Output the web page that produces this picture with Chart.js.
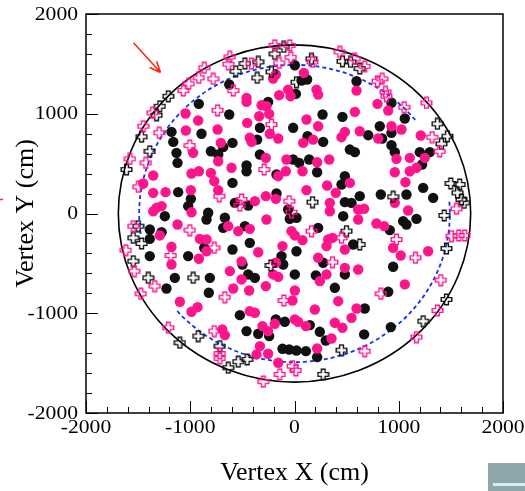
<!DOCTYPE html>
<html>
<head>
<meta charset="utf-8">
<script src="https://cdn.jsdelivr.net/npm/chart.js@4.4.1/dist/chart.umd.min.js"></script>
<style>
    html, body { margin: 0; padding: 0; background: #fff; }
    #wrap { width: 525px; height: 491px; }
</style>
</head>
<body>
<div id="wrap"><canvas id="vertexChart" width="525" height="491"></canvas></div>
<script>
// Vertex positions (cm)
const blackDots = [
    [-918,1099],[-1180,818],[-1163,718],[-892,799],[-684,665],
    [3,1486],[-626,1293],[67,1333],[121,1343],[13,1199],[-253,1119],[-626,992],[269,992],[460,969],[-13,859],
    [-332,859],[125,775],[275,718],[-358,741],[595,1326],[-595,708],
    [930,1109],[1058,952],[818,875],[930,809],[707,785],[841,752],[930,684],
    [-1132,608],[-1122,508],[-802,624],[-732,591],[-1116,214],[-994,147],[-1020,74],[-828,7],[-844,-60],
    [-1244,-27],[-668,-43],[-684,-144],[-1388,-160],[-1275,-187],[-1388,-254],[-866,-344],[-1388,-427],
    [-1020,-427],[-1148,-645],[-812,-645],
    [-460,481],[-460,424],[-595,307],[-332,591],[-173,391],[-13,541],[45,508],[141,541],[217,414],[483,374],
    [451,291],[531,641],[579,615],[-173,200],[-572,107],[-444,80],[-61,40],[-45,-54],[19,-43],[483,114],
    [547,107],[626,174],[467,-27],[-476,-127],[227,-144],[-429,-294],[-595,-361],[19,-378],[563,-311],
    [275,-494],[-125,-427],[-108,-511],[3,-611],[-499,-511],[-444,-611],[-380,-645],[205,-621],[483,-611],
    [962,615],[1202,615],[1298,615],[1224,491],[1234,257],[828,190],[1074,190],[1330,157],[1170,-54],
    [1042,-77],[1074,-110],[914,-167],[946,-534],
    [-1228,-752],[-822,-795],
    [387,-745],[-524,-1019],[-179,-1062],[-93,-1085],[147,-1119],[-460,-1179],[-348,-1206],[-243,-1229],
    [243,-1186],[300,-1273],[-115,-1356],[-51,-1363],[19,-1373],[109,-1380],[217,-1440],
    [899,-785],[674,-952],[924,-1139],[668,-1212]
];
const pinkDots = [
    [-1045,1002],[-924,932],[-738,842],[-1042,832],[-707,708],
    [-179,1393],[-205,1353],[90,1410],[-147,1186],[-61,1242],[-38,1176],[211,1242],[227,1192],[-460,1159],
    [-460,1119],[-316,1085],[-269,1075],[-243,999],[-339,975],[115,942],[227,875],[-454,909],[-237,799],
    [-156,752],[-429,759],[-412,718],[83,708],[179,741],[451,765],[483,818],[579,1019],[595,1232],[626,825],
    [796,1099],[899,1032],[930,875],[1026,842],[803,752],[1211,782],
    [-972,608],[-732,524],[-988,401],[-917,424],[-802,407],[-770,324],[-1355,381],[-1451,301],[-1355,207],
    [-1237,214],[-994,234],[-732,234],[-1275,74],[-1323,57],[-1355,23],[-1122,-110],[-988,13],[-1292,-220],
    [-908,-254],[-844,-261],[-844,-378],[-917,-454],[-1180,-511],[-1180,-334],
    [-604,458],[-275,558],[-156,374],[-83,424],[-77,541],[77,424],[217,514],[333,541],[531,307],[313,281],
    [115,234],[396,207],[-179,147],[-275,174],[-380,124],[339,107],[339,23],[611,40],[611,-60],[-269,-60],
    [-636,-127],[-540,-177],[-429,-154],[-29,-177],[3,-220],[77,-267],[-348,-388],[-115,-327],[323,-261],
    [364,-244],[307,-327],[483,-361],[227,-444],[-179,-494],[-205,-611],[-156,-635],[-508,-480],[-620,-578],
    [-508,-661],[307,-611],[483,-545],[611,-561],[243,-678],
    [1106,558],[1250,558],[978,548],[1170,458],[1106,424],[962,414],[1064,314],[962,107],[1090,30],
    [786,-100],[860,-127],[946,-344],[1019,-421],[1282,-378],[668,47],
    [-1100,-885],[-988,-985],[-930,-939],[-693,-1162],[-668,-1219],
    [-588,-752],[-435,-772],[-275,-728],[3,-772],[-19,-872],[195,-962],[419,-879],[595,-952],[547,-1046],
    [-429,-979],[-380,-995],[-189,-1106],[3,-1062],[35,-1085],[109,-1129],[387,-1095],[460,-1145],
    [-307,-1129],[-253,-1179],[355,-1253],[-332,-1330],[-253,-1406],[217,-1353],[-364,-1413],[-156,-1496],
    [1058,-711]
];
const blackCrosses = [
    [-1211,1175],[-1292,1075],[-1323,985],[-1467,769],
    [-476,1503],[-348,1520],[-563,1426],[-189,1600],[-102,1670],[163,1550],[460,1526],[537,1520],[626,1453],
    [-221,1420],[19,1316],[-358,1360],
    [1371,899],[1467,775],[1410,698],
    [-1388,624],[-1611,441],[-1499,-127],[-1547,-244],[-1467,-301],[-1547,-478],[-1403,-645],[-972,-645],
    [173,114],[499,-177],[-227,-521],[626,-311],
    [1499,301],[1585,291],[1563,207],[1602,140],[1627,107],[1436,-20],[1458,-351],[946,167],
    [-924,-1229],[-1100,-1296],[-716,-1330],
    [-540,-1486],[-454,-1463],[-636,-1546],[275,-1613],[451,-1370],
    [1234,-1079],[1458,-862]
];
const pinkCrosses = [
    [-866,1460],[-780,1350],[-918,1360],[-1014,1300],[-1067,1232],[-1362,1009],[-1451,875],[-1298,809],
    [-1004,681],[-738,1035],[-635,1497],[-620,1570],
    [-412,1503],[-189,1686],[-45,1686],[-35,1566],[-147,1510],[-588,1232],[435,1620],[579,1550],[173,1520],
    [-221,892],
    [674,1476],[796,1326],[841,1350],[873,1219],[882,1176],[1052,1065],[1266,1109],[1320,765],
    [-1579,548],[-1426,508],[-1499,267],[-722,174],[-1547,-127],[-1004,-167],[-770,-344],[-1618,-368],
    [-1186,-421],[-1537,-578],
    [-291,441],[-508,140],[-524,80],[-51,124],[-29,13],[163,-177],[451,-244],[364,-488],
    [1393,624],[1554,47],[1506,-227],[1576,-220],[1633,-220],[978,-261],[1160,-444],[1403,-668],
    [-1474,-805],[-1340,-728],[-668,-839],[-1211,-1145],[-770,-1179],[-716,-1403],[-716,-1453],
    [-102,-872],[-19,-1530],[13,-1573],[-141,-1613],[-300,-1686],
    [828,-805],[674,-1380],[1170,-1239],[1371,-972]
];

const axisTicks = [-2000, -1000, 0, 1000, 2000];
const detectorRadius = 1690;   // ID wall
const fiducialRadius = 1490;   // fiducial volume (dashed)
// dashed arc pieces, degrees counter-clockwise from +x
const fiducialArcs = [[-139, 5], [39, 189]];

const pink = '#ff148c';
const black = '#111111';

function makeCross(color) {
    const c = document.createElement('canvas');
    c.width = 13; c.height = 13;
    const g = c.getContext('2d');
    const m = 6.5, a = 1.9, l = 5.3;
    g.beginPath();
    g.moveTo(m - a, m - l); g.lineTo(m + a, m - l); g.lineTo(m + a, m - a);
    g.lineTo(m + l, m - a); g.lineTo(m + l, m + a); g.lineTo(m + a, m + a);
    g.lineTo(m + a, m + l); g.lineTo(m - a, m + l); g.lineTo(m - a, m + a);
    g.lineTo(m - l, m + a); g.lineTo(m - l, m - a); g.lineTo(m - a, m - a);
    g.closePath();
    g.strokeStyle = color;
    g.lineWidth = 1.4;
    g.stroke();
    return c;
}

const toXY = arr => arr.map(([x, y]) => ({ x: x, y: y }));

// frame, ticks, labels, detector outlines
const frameAndExtras = {
    id: 'frameAndExtras',
    beforeDatasetsDraw(chart) {
        const ctx = chart.ctx;
        const xs = chart.scales.x, ys = chart.scales.y;
        const cx = xs.getPixelForValue(0), cy = ys.getPixelForValue(0);
        const rx1 = xs.getPixelForValue(detectorRadius) - cx;
        const ry1 = cy - ys.getPixelForValue(detectorRadius);
        const rx2 = xs.getPixelForValue(fiducialRadius) - cx;
        const ry2 = cy - ys.getPixelForValue(fiducialRadius);
        ctx.save();
        ctx.strokeStyle = '#000';
        ctx.lineWidth = 1.6;
        ctx.beginPath();
        ctx.ellipse(cx, cy, rx1, ry1, 0, 0, Math.PI * 2);
        ctx.stroke();

        ctx.strokeStyle = '#1030ff';
        ctx.lineWidth = 1.8;
        ctx.setLineDash([4, 3]);
        fiducialArcs.forEach(([a1, a2]) => {
            ctx.beginPath();
            ctx.ellipse(cx, cy, rx2, ry2, 0, -a1 * Math.PI / 180, -a2 * Math.PI / 180, true);
            ctx.stroke();
        });
        ctx.restore();
    },
    afterDraw(chart) {
        const ctx = chart.ctx;
        const area = chart.chartArea;
        const xs = chart.scales.x, ys = chart.scales.y;
        ctx.save();
        // frame
        ctx.strokeStyle = '#000';
        ctx.lineWidth = 1.5;
        ctx.strokeRect(area.left, area.top, area.right - area.left, area.bottom - area.top);

        // ticks (inside)
        ctx.lineWidth = 1;
        ctx.beginPath();
        for (let v = -2000; v <= 2000; v += 200) {
            const len = (v % 1000 === 0) ? 12 : 6;
            const px = Math.round(xs.getPixelForValue(v)) + 0.5;
            ctx.moveTo(px, area.bottom);
            ctx.lineTo(px, area.bottom - len);
            const py = Math.round(ys.getPixelForValue(v)) + 0.5;
            ctx.moveTo(area.left, py);
            ctx.lineTo(area.left + len, py);
        }
        ctx.stroke();

        // tick labels
        ctx.fillStyle = '#000';
        ctx.font = '18px "Liberation Serif", "Times New Roman", serif';
        axisTicks.forEach(v => {
            const py = ys.getPixelForValue(v);
            ctx.save();
            ctx.translate(area.left - 8, py + 1);
            ctx.scale(1.2, 1);
            ctx.textAlign = 'right';
            ctx.textBaseline = 'middle';
            ctx.fillText(String(v), 0, 0);
            ctx.restore();

            const px = xs.getPixelForValue(v);
            ctx.save();
            ctx.translate(px, area.bottom + 20);
            ctx.scale(1.2, 1);
            ctx.textAlign = 'center';
            ctx.textBaseline = 'alphabetic';
            ctx.fillText(String(v), 0, 0);
            ctx.restore();
        });

        // axis titles
        ctx.font = '26px "Liberation Serif", "Times New Roman", serif';
        ctx.textAlign = 'center';
        ctx.textBaseline = 'alphabetic';
        ctx.fillText('Vertex X (cm)', xs.getPixelForValue(0), area.bottom + 67);
        ctx.save();
        ctx.translate(33, ys.getPixelForValue(0));
        ctx.rotate(-Math.PI / 2);
        ctx.fillText('Vertex Y (cm)', 0, 0);
        ctx.restore();

        // red arrow
        const tx = xs.getPixelForValue(-1544), ty = ys.getPixelForValue(1713);
        const hx = xs.getPixelForValue(-1285), hy = ys.getPixelForValue(1413);
        const ang = Math.atan2(hy - ty, hx - tx);
        ctx.strokeStyle = '#ff2010';
        ctx.lineWidth = 1.5;
        ctx.beginPath();
        ctx.moveTo(tx, ty);
        ctx.lineTo(hx, hy);
        ctx.moveTo(hx, hy);
        ctx.lineTo(hx - 12 * Math.cos(ang - 0.4), hy - 12 * Math.sin(ang - 0.4));
        ctx.moveTo(hx, hy);
        ctx.lineTo(hx - 12 * Math.cos(ang + 0.4), hy - 12 * Math.sin(ang + 0.4));
        ctx.stroke();
        ctx.beginPath();
        ctx.moveTo(0, 199.5);
        ctx.lineTo(3, 199.5);
        ctx.stroke();

        // slide corner
        ctx.fillStyle = '#8fa7ab';
        ctx.fillRect(488, 463, 37, 28);
        ctx.fillStyle = '#d2ecf0';
        ctx.fillRect(493, 483, 32, 3);
        ctx.restore();
    }
};

const ctx = document.getElementById('vertexChart').getContext('2d');
new Chart(ctx, {
    type: 'scatter',
    data: {
        datasets: [
            {
                label: 'pink crosses',
                data: toXY(pinkCrosses),
                pointStyle: makeCross(pink),
                order: 1
            },
            {
                label: 'black crosses',
                data: toXY(blackCrosses),
                pointStyle: makeCross(black),
                order: 2
            },
            {
                label: 'pink dots',
                data: toXY(pinkDots),
                pointRadius: 5.2,
                backgroundColor: pink,
                borderWidth: 0,
                order: 3
            },
            {
                label: 'black dots',
                data: toXY(blackDots),
                pointRadius: 5.2,
                backgroundColor: black,
                borderWidth: 0,
                order: 4
            }
        ]
    },
    options: {
        responsive: false,
        animation: false,
        devicePixelRatio: 1,
        layout: { padding: { left: 86, right: 22, top: 14, bottom: 78 } },
        plugins: {
            legend: { display: false },
            tooltip: { enabled: false }
        },
        scales: {
            x: { type: 'linear', min: -2000, max: 2000, display: false },
            y: { type: 'linear', min: -2000, max: 2000, display: false }
        }
    },
    plugins: [frameAndExtras]
});
</script>
</body>
</html>
